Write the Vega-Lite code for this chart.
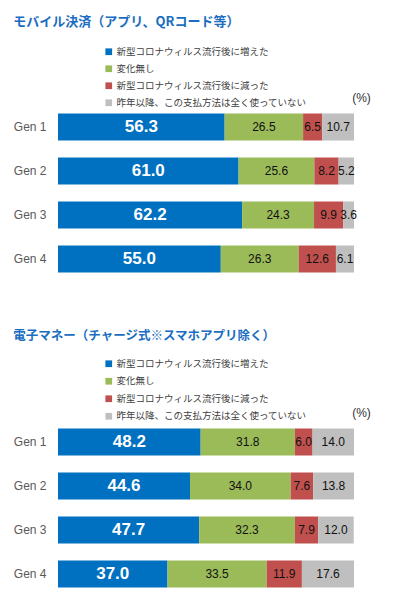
{
  "$schema": "https://vega.github.io/schema/vega-lite/v6.json",
  "background": "white",
  "padding": {"left": 13, "top": 16, "right": 0, "bottom": 0},
  "config": {
    "view": {"stroke": null},
    "font": "Liberation Sans",
    "concat": {"spacing": 48}
  },
  "resolve": {"scale": {"color": "independent"}, "legend": {"color": "independent"}},
  "data": {"values": [
    {"p": 1, "gen": "Gen 1", "k": 1, "cat": "新型コロナウィルス流行後に増えた", "v": 56.3},
    {"p": 1, "gen": "Gen 1", "k": 2, "cat": "変化無し", "v": 26.5},
    {"p": 1, "gen": "Gen 1", "k": 3, "cat": "新型コロナウィルス流行後に減った", "v": 6.5},
    {"p": 1, "gen": "Gen 1", "k": 4, "cat": "昨年以降、この支払方法は全く使っていない", "v": 10.7},
    {"p": 1, "gen": "Gen 2", "k": 1, "cat": "新型コロナウィルス流行後に増えた", "v": 61.0},
    {"p": 1, "gen": "Gen 2", "k": 2, "cat": "変化無し", "v": 25.6},
    {"p": 1, "gen": "Gen 2", "k": 3, "cat": "新型コロナウィルス流行後に減った", "v": 8.2},
    {"p": 1, "gen": "Gen 2", "k": 4, "cat": "昨年以降、この支払方法は全く使っていない", "v": 5.2},
    {"p": 1, "gen": "Gen 3", "k": 1, "cat": "新型コロナウィルス流行後に増えた", "v": 62.2},
    {"p": 1, "gen": "Gen 3", "k": 2, "cat": "変化無し", "v": 24.3},
    {"p": 1, "gen": "Gen 3", "k": 3, "cat": "新型コロナウィルス流行後に減った", "v": 9.9},
    {"p": 1, "gen": "Gen 3", "k": 4, "cat": "昨年以降、この支払方法は全く使っていない", "v": 3.6},
    {"p": 1, "gen": "Gen 4", "k": 1, "cat": "新型コロナウィルス流行後に増えた", "v": 55.0},
    {"p": 1, "gen": "Gen 4", "k": 2, "cat": "変化無し", "v": 26.3},
    {"p": 1, "gen": "Gen 4", "k": 3, "cat": "新型コロナウィルス流行後に減った", "v": 12.6},
    {"p": 1, "gen": "Gen 4", "k": 4, "cat": "昨年以降、この支払方法は全く使っていない", "v": 6.1},
    {"p": 2, "gen": "Gen 1", "k": 1, "cat": "新型コロナウィルス流行後に増えた", "v": 48.2},
    {"p": 2, "gen": "Gen 1", "k": 2, "cat": "変化無し", "v": 31.8},
    {"p": 2, "gen": "Gen 1", "k": 3, "cat": "新型コロナウィルス流行後に減った", "v": 6.0},
    {"p": 2, "gen": "Gen 1", "k": 4, "cat": "昨年以降、この支払方法は全く使っていない", "v": 14.0},
    {"p": 2, "gen": "Gen 2", "k": 1, "cat": "新型コロナウィルス流行後に増えた", "v": 44.6},
    {"p": 2, "gen": "Gen 2", "k": 2, "cat": "変化無し", "v": 34.0},
    {"p": 2, "gen": "Gen 2", "k": 3, "cat": "新型コロナウィルス流行後に減った", "v": 7.6},
    {"p": 2, "gen": "Gen 2", "k": 4, "cat": "昨年以降、この支払方法は全く使っていない", "v": 13.8},
    {"p": 2, "gen": "Gen 3", "k": 1, "cat": "新型コロナウィルス流行後に増えた", "v": 47.7},
    {"p": 2, "gen": "Gen 3", "k": 2, "cat": "変化無し", "v": 32.3},
    {"p": 2, "gen": "Gen 3", "k": 3, "cat": "新型コロナウィルス流行後に減った", "v": 7.9},
    {"p": 2, "gen": "Gen 3", "k": 4, "cat": "昨年以降、この支払方法は全く使っていない", "v": 12.0},
    {"p": 2, "gen": "Gen 4", "k": 1, "cat": "新型コロナウィルス流行後に増えた", "v": 37.0},
    {"p": 2, "gen": "Gen 4", "k": 2, "cat": "変化無し", "v": 33.5},
    {"p": 2, "gen": "Gen 4", "k": 3, "cat": "新型コロナウィルス流行後に減った", "v": 11.9},
    {"p": 2, "gen": "Gen 4", "k": 4, "cat": "昨年以降、この支払方法は全く使っていない", "v": 17.6}
  ]},
  "vconcat": [
    {
      "title": {"text": "モバイル決済（アプリ、QRコード等）", "anchor": "start", "font": "Noto Sans CJK JP", "fontSize": 13, "fontWeight": "bold", "color": "#1A6DC0", "offset": 18},
      "width": 296,
      "height": {"step": 44},
      "transform": [
        {"filter": "datum.p == 1"},
        {"stack": "v", "groupby": ["gen"], "sort": [{"field": "k", "order": "ascending"}], "as": ["v0", "v1"]},
        {"calculate": "(datum.v0 + datum.v1) / 2", "as": "vm"}
      ],
      "encoding": {
        "y": {"field": "gen", "type": "nominal", "title": null,
          "scale": {"paddingInner": 0.386, "paddingOuter": 0.193},
          "axis": {"domain": false, "ticks": false, "labelPadding": 12, "labelFontSize": 12, "labelColor": "#595959", "labelFont": "Liberation Sans"}}
      },
      "layer": [
        {
          "mark": {"type": "bar"},
          "encoding": {
            "x": {"field": "v0", "type": "quantitative", "scale": {"domain": [0, 100]},
              "axis": {"orient": "top", "labels": false, "ticks": false, "domain": false, "grid": false, "title": "(%)", "titleX": 303, "titleY": -8, "titleAlign": "center", "titleBaseline": "middle", "titleFontSize": 12, "titleFontWeight": "normal", "titleColor": "#333333", "titleFont": "Liberation Sans"}},
            "x2": {"field": "v1"},
            "color": {"field": "cat", "type": "nominal",
              "scale": {"domain": ["新型コロナウィルス流行後に増えた", "変化無し", "新型コロナウィルス流行後に減った", "昨年以降、この支払方法は全く使っていない"], "range": ["#0070C0", "#9BBB59", "#C0504D", "#BFBFBF"]},
              "legend": {"orient": "none", "legendX": 46, "legendY": -58, "title": null, "symbolType": "square", "symbolSize": 45, "symbolStrokeWidth": 0, "labelFont": "Noto Sans CJK JP", "labelFontSize": 9.5, "labelColor": "#404040", "labelLimit": 300, "rowPadding": 6, "labelOffset": 3}}
          }
        },
        {
          "transform": [{"filter": "datum.k == 1"}],
          "mark": {"type": "text", "color": "white", "fontSize": 17, "fontWeight": "bold"},
          "encoding": {"x": {"field": "vm", "type": "quantitative"}, "text": {"field": "v", "format": ".1f"}}
        },
        {
          "transform": [{"filter": "datum.k > 1"}],
          "mark": {"type": "text", "color": "#111111", "fontSize": 12},
          "encoding": {"x": {"field": "vm", "type": "quantitative"}, "text": {"field": "v", "format": ".1f"}}
        }
      ]
    },
    {
      "title": {"text": "電子マネー（チャージ式※スマホアプリ除く）", "anchor": "start", "font": "Noto Sans CJK JP", "fontSize": 12.5, "fontWeight": "bold", "color": "#1A6DC0", "offset": 17},
      "width": 296,
      "height": {"step": 44},
      "transform": [
        {"filter": "datum.p == 2"},
        {"stack": "v", "groupby": ["gen"], "sort": [{"field": "k", "order": "ascending"}], "as": ["v0", "v1"]},
        {"calculate": "(datum.v0 + datum.v1) / 2", "as": "vm"}
      ],
      "encoding": {
        "y": {"field": "gen", "type": "nominal", "title": null,
          "scale": {"paddingInner": 0.386, "paddingOuter": 0.193},
          "axis": {"domain": false, "ticks": false, "labelPadding": 12, "labelFontSize": 12, "labelColor": "#595959", "labelFont": "Liberation Sans"}}
      },
      "layer": [
        {
          "mark": {"type": "bar"},
          "encoding": {
            "x": {"field": "v0", "type": "quantitative", "scale": {"domain": [0, 100]},
              "axis": {"orient": "top", "labels": false, "ticks": false, "domain": false, "grid": false, "title": "(%)", "titleX": 303, "titleY": -8, "titleAlign": "center", "titleBaseline": "middle", "titleFontSize": 12, "titleFontWeight": "normal", "titleColor": "#333333", "titleFont": "Liberation Sans"}},
            "x2": {"field": "v1"},
            "color": {"field": "cat", "type": "nominal",
              "scale": {"domain": ["新型コロナウィルス流行後に増えた", "変化無し", "新型コロナウィルス流行後に減った", "昨年以降、この支払方法は全く使っていない"], "range": ["#0070C0", "#9BBB59", "#C0504D", "#BFBFBF"]},
              "legend": {"orient": "none", "legendX": 46, "legendY": -61, "title": null, "symbolType": "square", "symbolSize": 45, "symbolStrokeWidth": 0, "labelFont": "Noto Sans CJK JP", "labelFontSize": 9.5, "labelColor": "#404040", "labelLimit": 300, "rowPadding": 6.5, "labelOffset": 3}}
          }
        },
        {
          "transform": [{"filter": "datum.k == 1"}],
          "mark": {"type": "text", "color": "white", "fontSize": 17, "fontWeight": "bold"},
          "encoding": {"x": {"field": "vm", "type": "quantitative"}, "text": {"field": "v", "format": ".1f"}}
        },
        {
          "transform": [{"filter": "datum.k > 1"}],
          "mark": {"type": "text", "color": "#111111", "fontSize": 12},
          "encoding": {"x": {"field": "vm", "type": "quantitative"}, "text": {"field": "v", "format": ".1f"}}
        }
      ]
    }
  ]
}
